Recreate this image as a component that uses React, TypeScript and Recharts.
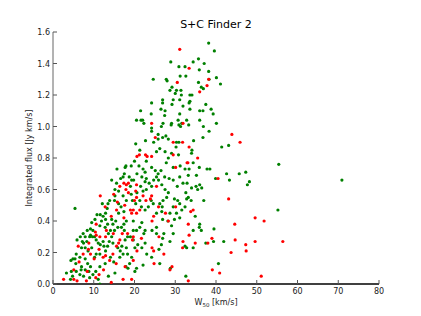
import React from 'react';
import { ScatterChart, Scatter, XAxis, YAxis } from 'recharts';

// axis ticks
const xTicks = [0, 10, 20, 30, 40, 50, 60, 70, 80];
const yTicks = [0, 0.2, 0.4, 0.6, 0.8, 1.0, 1.2, 1.4, 1.6];

// [W50 km/s, integrated flux Jy km/s]
const greenPoints: [number, number][] = [
    [38.2, 1.53], [39.6, 1.48], [35.7, 1.43], [34.4, 1.41], [37.1, 1.4], [28.9, 1.41], [30.9, 1.38], [32.4, 1.38],
    [35.9, 1.36], [38.2, 1.35], [31.2, 1.32], [32.6, 1.32], [24.6, 1.3], [27.8, 1.3], [28.0, 1.29], [40.1, 1.31],
    [38.3, 1.3], [41.1, 1.27], [35.7, 1.28], [36.4, 1.25], [36.9, 1.24], [29.2, 1.25], [28.7, 1.23], [30.3, 1.23],
    [31.4, 1.23], [30.0, 1.21], [33.6, 1.2], [34.1, 1.2], [31.5, 1.2], [29.5, 1.17], [26.9, 1.17], [26.9, 1.15],
    [24.2, 1.15], [31.1, 1.17], [33.6, 1.16], [37.5, 1.14], [31.9, 1.13], [33.4, 1.15], [29.2, 1.14], [26.5, 1.11],
    [27.5, 1.1], [21.5, 1.1], [36.0, 1.1], [36.8, 1.1], [38.8, 1.11], [39.3, 1.08], [33.6, 1.11], [31.1, 1.08],
    [24.1, 1.08], [27.4, 1.07], [21.6, 1.04], [22.0, 1.04], [22.3, 1.02], [20.5, 1.04], [24.2, 0.99], [24.2, 0.97],
    [27.0, 1.02], [26.6, 1.0], [29.1, 1.02], [29.0, 1.01], [30.7, 1.04], [30.9, 1.01], [31.3, 1.0], [31.6, 1.02],
    [32.8, 1.04], [33.3, 1.01], [36.0, 1.04], [40.1, 1.02], [36.9, 1.0], [38.3, 0.97], [25.8, 0.95], [27.7, 0.94],
    [28.3, 0.92], [26.9, 0.93], [25.8, 0.92], [24.7, 0.9], [22.7, 0.91], [20.3, 0.89], [30.3, 0.9], [30.9, 0.9],
    [30.2, 0.87], [36.8, 0.93], [34.5, 0.91], [34.1, 0.85], [41.4, 0.87], [43.1, 0.88], [26.2, 0.86], [25.4, 0.84],
    [21.3, 0.85], [27.5, 0.84], [29.1, 0.83], [30.8, 0.82], [34.0, 0.83], [28.3, 0.8], [27.8, 0.77], [22.9, 0.78],
    [20.0, 0.78], [17.7, 0.74], [17.9, 0.75], [15.7, 0.73], [19.2, 0.75], [21.1, 0.75], [22.1, 0.73], [24.2, 0.74],
    [25.1, 0.72], [25.8, 0.7], [26.5, 0.72], [29.5, 0.74], [31.2, 0.75], [34.4, 0.77], [32.4, 0.73], [33.4, 0.73],
    [35.9, 0.74], [37.8, 0.73], [38.5, 0.73], [39.9, 0.67], [42.6, 0.7], [45.7, 0.7], [47.3, 0.71], [43.3, 0.66],
    [48.2, 0.65], [47.7, 0.63], [55.4, 0.76], [70.9, 0.66], [55.2, 0.47], [39.5, 0.35], [40.6, 0.13], [41.9, 0.27],
    [39.4, 0.27], [35.9, 0.36], [36.4, 0.34], [34.9, 0.43], [34.4, 0.34], [32.8, 0.23], [32.4, 0.24], [32.6, 0.05],
    [28.7, 0.27], [26.9, 0.29], [26.6, 0.25], [26.2, 0.13], [28.8, 0.1], [27.2, 0.32], [29.5, 0.32], [29.1, 0.37],
    [29.8, 0.41], [28.2, 0.4], [26.9, 0.41], [25.4, 0.36], [24.3, 0.34], [22.6, 0.34], [22.3, 0.32], [22.6, 0.26],
    [21.8, 0.23], [22.1, 0.12], [19.7, 0.28], [20.1, 0.23], [18.0, 0.23], [18.8, 0.13], [17.9, 0.11], [18.4, 0.1],
    [20.5, 0.1], [20.1, 0.08], [16.4, 0.17], [14.9, 0.14], [15.2, 0.07], [13.6, 0.05], [12.8, 0.13], [11.5, 0.11],
    [10.5, 0.08], [9.8, 0.06], [9.0, 0.04], [7.5, 0.05], [6.6, 0.06], [5.7, 0.08], [4.8, 0.05], [4.3, 0.03],
    [3.3, 0.07], [4.5, 0.08], [4.4, 0.15], [4.9, 0.16], [5.4, 0.16], [5.6, 0.13], [6.6, 0.17], [5.7, 0.19],
    [7.0, 0.23], [7.9, 0.23], [7.5, 0.26], [8.3, 0.27], [9.0, 0.3], [9.2, 0.31], [9.2, 0.35], [9.8, 0.34],
    [9.7, 0.3], [10.2, 0.3], [10.6, 0.28], [11.1, 0.26], [11.6, 0.25], [11.5, 0.19], [10.6, 0.19], [10.2, 0.17],
    [9.5, 0.23], [8.6, 0.21], [7.9, 0.16], [8.5, 0.13], [9.2, 0.11], [7.0, 0.11], [6.9, 0.09], [7.9, 0.09],
    [8.8, 0.08], [11.1, 0.03], [11.5, 0.0], [10.8, 0.44], [11.6, 0.44], [12.3, 0.43], [12.9, 0.41], [11.9, 0.4],
    [11.5, 0.37], [12.8, 0.36], [13.4, 0.38], [14.4, 0.41], [14.7, 0.38], [15.4, 0.4], [15.9, 0.36], [15.1, 0.34],
    [14.1, 0.34], [13.6, 0.32], [14.4, 0.3], [13.8, 0.27], [14.7, 0.26], [13.4, 0.24], [12.5, 0.24], [12.3, 0.27],
    [12.9, 0.21], [14.1, 0.17], [15.9, 0.23], [16.9, 0.24], [17.2, 0.19], [16.5, 0.21], [18.3, 0.19], [17.7, 0.28],
    [18.3, 0.3], [19.0, 0.3], [17.5, 0.34], [16.8, 0.36], [17.4, 0.38], [18.0, 0.4], [19.7, 0.4], [20.5, 0.34],
    [21.3, 0.36], [21.8, 0.39], [19.7, 0.34], [12.1, 0.51], [13.5, 0.51], [13.9, 0.53], [15.1, 0.53], [15.2, 0.56],
    [16.1, 0.59], [15.2, 0.6], [15.6, 0.64], [14.4, 0.66], [16.6, 0.67], [17.2, 0.68], [17.5, 0.7], [18.7, 0.68],
    [19.3, 0.66], [19.8, 0.66], [19.0, 0.62], [20.6, 0.7], [21.8, 0.68], [22.6, 0.71], [22.9, 0.67], [22.6, 0.65],
    [23.6, 0.64], [24.2, 0.62], [24.7, 0.66], [25.4, 0.68], [25.9, 0.66], [26.7, 0.63], [27.4, 0.68], [28.5, 0.67],
    [27.5, 0.6], [28.3, 0.58], [27.9, 0.55], [27.0, 0.53], [26.2, 0.51], [26.8, 0.49], [25.4, 0.45], [26.7, 0.46],
    [29.8, 0.54], [30.6, 0.53], [31.1, 0.51], [31.6, 0.47], [32.4, 0.49], [32.8, 0.54], [33.2, 0.55], [33.9, 0.53],
    [32.6, 0.58], [34.0, 0.61], [35.1, 0.62], [35.5, 0.6], [36.5, 0.61], [37.0, 0.53], [36.0, 0.63], [32.9, 0.64],
    [31.9, 0.64], [30.5, 0.62], [29.5, 0.66], [31.1, 0.68], [33.2, 0.69], [35.2, 0.69], [22.9, 0.6], [22.1, 0.59],
    [21.5, 0.62], [21.3, 0.53], [21.7, 0.49], [22.6, 0.47], [23.4, 0.49], [24.1, 0.53], [24.6, 0.51], [18.0, 0.53],
    [17.2, 0.56], [16.7, 0.49], [17.4, 0.46], [16.1, 0.45], [13.3, 0.48], [12.9, 0.45], [5.4, 0.48], [10.3, 0.41],
    [9.5, 0.39], [8.4, 0.34], [7.4, 0.32], [6.7, 0.3], [5.9, 0.28], [7.2, 0.27], [7.9, 0.3], [19.5, 0.53],
    [20.3, 0.51], [19.2, 0.57], [20.6, 0.58], [16.1, 0.51], [29.5, 0.49], [28.7, 0.45], [30.3, 0.45], [31.1, 0.42],
    [25.4, 0.32], [26.0, 0.22], [24.2, 0.17], [23.0, 0.19], [20.8, 0.25], [19.3, 0.17], [37.5, 0.26], [34.4, 0.23],
    [36.0, 0.38],
];

const redPoints: [number, number][] = [
    [31.1, 1.49], [33.4, 1.37], [30.5, 1.28], [38.2, 1.3], [37.8, 1.26], [36.0, 1.22], [24.2, 1.02], [31.9, 1.02],
    [25.1, 0.93], [29.5, 0.9], [31.8, 0.9], [33.4, 0.87], [43.9, 0.95], [45.9, 0.9], [20.6, 0.81], [21.2, 0.82],
    [23.1, 0.81], [24.2, 0.81], [35.5, 0.8], [33.1, 0.77], [40.5, 0.67], [17.4, 0.64], [18.0, 0.63], [17.9, 0.6],
    [18.5, 0.58], [11.6, 0.56], [14.9, 0.57], [20.3, 0.59], [20.5, 0.55], [20.0, 0.53], [15.8, 0.52], [22.8, 0.53],
    [24.2, 0.56], [12.8, 0.49], [15.6, 0.47], [19.0, 0.47], [19.7, 0.47], [19.3, 0.45], [17.4, 0.42], [14.3, 0.43],
    [24.3, 0.4], [27.6, 0.45], [30.1, 0.49], [33.8, 0.46], [34.4, 0.47], [43.1, 0.54], [44.6, 0.38], [49.6, 0.42],
    [51.8, 0.4], [56.4, 0.27], [49.6, 0.27], [47.3, 0.25], [47.4, 0.21], [44.7, 0.28], [43.7, 0.2], [39.0, 0.29],
    [38.0, 0.26], [34.9, 0.26], [33.4, 0.31], [33.2, 0.38], [31.9, 0.27], [31.8, 0.23], [26.0, 0.3], [27.2, 0.19],
    [24.7, 0.21], [24.3, 0.23], [24.8, 0.13], [29.2, 0.11], [28.7, 0.09], [33.2, 0.02], [39.1, 0.09], [40.9, 0.07],
    [51.1, 0.05], [21.7, 0.29], [19.5, 0.28], [19.7, 0.3], [20.6, 0.21], [18.3, 0.32], [17.0, 0.32], [14.8, 0.32],
    [13.1, 0.34], [12.9, 0.3], [11.5, 0.3], [10.6, 0.31], [10.4, 0.33], [10.6, 0.38], [8.8, 0.26], [7.4, 0.19],
    [6.2, 0.24], [6.4, 0.14], [5.1, 0.09], [5.1, 0.03], [5.9, 0.02], [2.6, 0.03], [8.2, 0.02], [8.4, 0.08],
    [10.5, 0.04], [11.3, 0.06], [12.4, 0.09], [14.3, 0.01], [17.2, 0.03], [19.3, 0.03], [13.9, 0.15], [14.7, 0.19],
    [15.5, 0.13], [9.2, 0.19], [10.1, 0.16], [12.3, 0.17], [11.3, 0.22], [8.7, 0.22], [17.7, 0.11], [19.7, 0.15],
    [16.4, 0.28], [15.6, 0.24], [20.5, 0.45], [24.7, 0.43], [25.9, 0.49], [21.3, 0.47], [16.1, 0.26], [12.9, 0.18],
    [17.6, 0.5], [18.5, 0.64], [16.4, 0.62], [20.5, 0.63], [25.4, 0.62], [23.9, 0.54], [22.1, 0.56], [28.3, 0.4],
    [30.1, 0.74], [29.5, 0.82], [32.9, 0.77], [22.7, 0.82],
];

const greenData = greenPoints.map(([w, flux]) => ({ w, flux }));
const redData = redPoints.map(([w, flux]) => ({ w, flux }));

const FONT = '"DejaVu Sans", sans-serif';
const TICK_COLOR = '#555';

const dot = (color: string) => (props: any) => (
    <circle cx={props.cx} cy={props.cy} r={1.6} fill={color} />
);

// matplotlib style ticks, pointing into the axes
const BottomTick = (props: any) => {
    const { x, y, payload } = props;
    return (
        <g>
            <line x1={x} y1={y} x2={x} y2={y - 4} stroke={TICK_COLOR} />
            <text x={x} y={y + 10} textAnchor="middle" fontSize={8} fill="#222" fontFamily={FONT}>
                {payload.value}
            </text>
        </g>
    );
};

const TopTick = (props: any) => {
    const { x, y } = props;
    return <line x1={x} y1={y} x2={x} y2={y + 4} stroke={TICK_COLOR} />;
};

const LeftTick = (props: any) => {
    const { x, y, payload } = props;
    return (
        <g>
            <line x1={x} y1={y} x2={x + 4} y2={y} stroke={TICK_COLOR} />
            <text x={x - 3} y={y + 3} textAnchor="end" fontSize={8} fill="#222" fontFamily={FONT}>
                {Number(payload.value).toFixed(1)}
            </text>
        </g>
    );
};

const RightTick = (props: any) => {
    const { x, y } = props;
    return <line x1={x} y1={y} x2={x - 4} y2={y} stroke={TICK_COLOR} />;
};

export default function App() {
    return (
        <div style={{ position: 'absolute', left: 0, top: 0, width: 421, height: 316, background: '#fff' }}>
            <ScatterChart width={421} height={316} margin={{ top: 32, right: 42, bottom: 12, left: 0 }}>
                <XAxis
                    xAxisId="bottom"
                    type="number"
                    dataKey="w"
                    domain={[0, 80]}
                    ticks={xTicks}
                    allowDataOverflow
                    height={20}
                    tickSize={0}
                    tickMargin={0}
                    tickLine={false}
                    axisLine={{ stroke: '#000', strokeWidth: 1.5 }}
                    tick={<BottomTick />}
                    interval={0}
                />
                <XAxis
                    xAxisId="top"
                    orientation="top"
                    type="number"
                    dataKey="w"
                    domain={[0, 80]}
                    ticks={xTicks}
                    allowDataOverflow
                    height={0}
                    tickSize={0}
                    tickMargin={0}
                    tickLine={false}
                    axisLine={{ stroke: '#666' }}
                    tick={<TopTick />}
                    interval={0}
                />
                <YAxis
                    yAxisId="left"
                    type="number"
                    dataKey="flux"
                    domain={[0, 1.6]}
                    ticks={yTicks}
                    allowDataOverflow
                    width={53}
                    tickSize={0}
                    tickMargin={0}
                    tickLine={false}
                    axisLine={{ stroke: '#666' }}
                    tick={<LeftTick />}
                    interval={0}
                />
                <YAxis
                    yAxisId="right"
                    orientation="right"
                    type="number"
                    dataKey="flux"
                    domain={[0, 1.6]}
                    ticks={yTicks}
                    allowDataOverflow
                    width={0}
                    tickSize={0}
                    tickMargin={0}
                    tickLine={false}
                    axisLine={{ stroke: '#666' }}
                    tick={<RightTick />}
                    interval={0}
                />
                <Scatter
                    data={greenData}
                    xAxisId="bottom"
                    yAxisId="left"
                    fill="#008000"
                    shape={dot('#008000')}
                    isAnimationActive={false}
                />
                <Scatter
                    data={redData}
                    xAxisId="bottom"
                    yAxisId="left"
                    fill="#ff0000"
                    shape={dot('#ff0000')}
                    isAnimationActive={false}
                />
            </ScatterChart>
            <svg
                width={421}
                height={316}
                style={{ position: 'absolute', left: 0, top: 0, pointerEvents: 'none' }}
            >
                <text x={216} y={28} textAnchor="middle" fontSize={11} fill="#000" fontFamily={FONT}>
                    S+C Finder 2
                </text>
                <text
                    x={29}
                    y={158}
                    transform="rotate(-90 29 158)"
                    textAnchor="middle"
                    dominantBaseline="central"
                    fontSize={8}
                    fill="#222"
                    fontFamily={FONT}
                >
                    Integrated flux [Jy km/s]
                </text>
                <text x={216} y={305} textAnchor="middle" fontSize={8} fill="#222" fontFamily={FONT}>
                    W<tspan fontSize={5.5} dy={2}>50</tspan>
                    <tspan dy={-2}> [km/s]</tspan>
                </text>
            </svg>
        </div>
    );
}
